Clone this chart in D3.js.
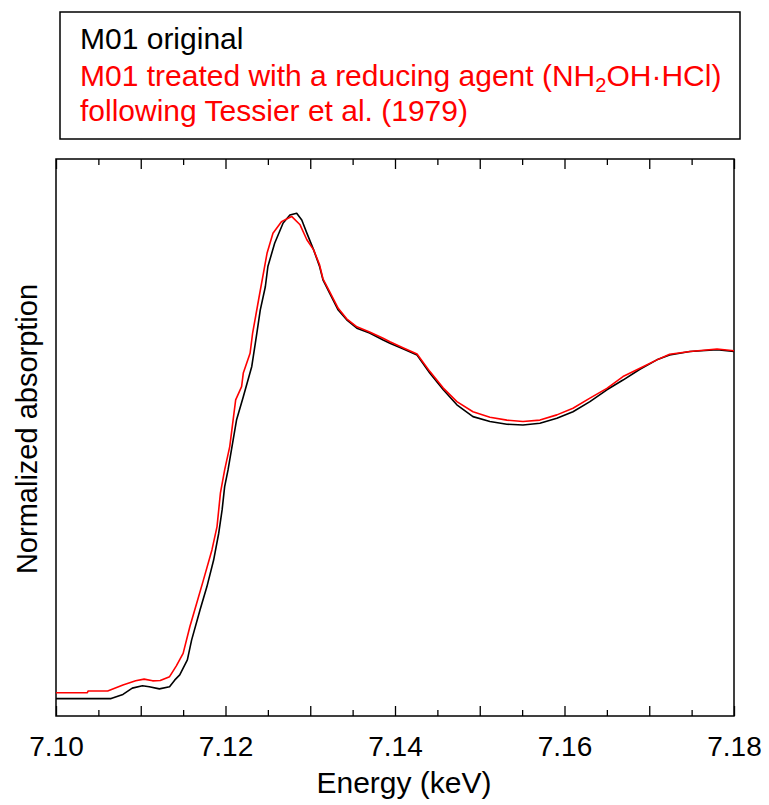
<!DOCTYPE html>
<html>
<head>
<meta charset="utf-8">
<script src="https://cdn.jsdelivr.net/npm/d3@7"></script>
<style>
  html, body { margin: 0; padding: 0; background: #fff; }
  svg { display: block; }
  text { font-family: "Liberation Sans", Arial, sans-serif; }
</style>
</head>
<body>
<div id="chart"></div>
<script>
// ---------------- data ----------------
const energyOriginal = [7.1000,7.1065,7.1079,7.1090,7.1102,7.1110,7.1122,7.1134,7.1140,7.1146,7.1155,7.1160,7.1170,7.1178,7.1186,7.1192,7.1196,7.1199,7.1203,7.1205,7.1213,7.1221,7.1231,7.1237,7.1241,7.1247,7.1250,7.1258,7.1268,7.1276,7.1284,7.1290,7.1296,7.1304,7.1311,7.1315,7.1323,7.1333,7.1343,7.1355,7.1370,7.1386,7.1394,7.1410,7.1426,7.1441,7.1457,7.1473,7.1492,7.1512,7.1532,7.1551,7.1571,7.1591,7.1610,7.1630,7.1650,7.1669,7.1689,7.1709,7.1724,7.1748,7.1780,7.1800];
const absOriginal    = [0.000,0.000,0.012,0.030,0.037,0.034,0.028,0.034,0.053,0.068,0.111,0.168,0.255,0.321,0.398,0.475,0.542,0.609,0.657,0.686,0.800,0.867,0.954,1.050,1.116,1.183,1.241,1.308,1.366,1.389,1.394,1.375,1.337,1.289,1.241,1.203,1.164,1.116,1.088,1.064,1.050,1.030,1.021,1.004,0.987,0.935,0.887,0.844,0.810,0.796,0.788,0.786,0.791,0.805,0.824,0.853,0.887,0.915,0.946,0.973,0.987,0.997,1.002,0.997];

const energyTreated = [7.1000,7.1037,7.1038,7.1061,7.1079,7.1094,7.1104,7.1114,7.1123,7.1134,7.1142,7.1150,7.1158,7.1166,7.1174,7.1184,7.1190,7.1194,7.1199,7.1205,7.1212,7.1219,7.1221,7.1229,7.1232,7.1239,7.1249,7.1256,7.1266,7.1278,7.1288,7.1296,7.1304,7.1311,7.1315,7.1323,7.1333,7.1343,7.1355,7.1370,7.1386,7.1394,7.1410,7.1426,7.1441,7.1457,7.1473,7.1492,7.1512,7.1532,7.1551,7.1571,7.1591,7.1610,7.1630,7.1650,7.1669,7.1689,7.1709,7.1724,7.1748,7.1780,7.1800];
const absTreated    = [0.017,0.017,0.022,0.022,0.039,0.051,0.056,0.051,0.052,0.063,0.094,0.130,0.207,0.274,0.341,0.427,0.494,0.590,0.657,0.724,0.858,0.896,0.935,0.992,1.050,1.145,1.279,1.337,1.370,1.385,1.361,1.318,1.289,1.246,1.206,1.168,1.121,1.091,1.068,1.053,1.035,1.025,1.007,0.990,0.940,0.892,0.853,0.824,0.808,0.800,0.796,0.800,0.815,0.834,0.863,0.891,0.925,0.949,0.973,0.989,0.997,1.004,0.999];

const xDomain = [7.10, 7.18];
const yDomain = [-0.05, 1.55];
const labelTicks = [7.10, 7.12, 7.14, 7.16, 7.18];
const midTicks   = [7.11, 7.13, 7.15, 7.17];
const minorTicks = [7.105, 7.115, 7.125, 7.135, 7.145, 7.155, 7.165, 7.175];

const legendLines = ["M01 original", "M01 treated with a reducing agent (NH", "following Tessier et al. (1979)"];
const xTitle = "Energy (keV)";
const yTitle = "Normalized absorption";
const colorOriginal = "#000000";
const colorTreated = "#ff0000";

// ---------------- layout ----------------
const W = 769, H = 805;
const plot = { left: 56, right: 734, top: 159, bottom: 716 };

const svg = d3.select("#chart").append("svg").attr("width", W).attr("height", H);

const x = d3.scaleLinear().domain(xDomain).range([plot.left, plot.right]);
const y = d3.scaleLinear().domain(yDomain).range([plot.bottom, plot.top]);

function addAxis(axisGen, ty) {
  const g = svg.append("g").attr("transform", `translate(0,${ty})`).call(axisGen);
  g.select(".domain").remove();
  g.selectAll(".tick line").attr("stroke", "#000").attr("stroke-width", 1.3);
  return g;
}
// bottom axis
addAxis(d3.axisBottom(x).tickValues(minorTicks).tickSize(-6).tickFormat(""), plot.bottom);
addAxis(d3.axisBottom(x).tickValues(midTicks.concat(labelTicks)).tickSize(-10).tickFormat(""), plot.bottom);
const lab = addAxis(d3.axisBottom(x).tickValues(labelTicks).tickSize(0).tickPadding(20).tickFormat(d3.format(".2f")), plot.bottom);
lab.selectAll("text").attr("font-size", 28).attr("fill", "#000")
   .attr("font-family", "'Liberation Sans', Arial, sans-serif");

// top axis
addAxis(d3.axisTop(x).tickValues(minorTicks).tickSize(-6).tickFormat(""), plot.top);
addAxis(d3.axisTop(x).tickValues(midTicks.concat(labelTicks)).tickSize(-10).tickFormat(""), plot.top);

// frame
svg.append("rect")
  .attr("x", plot.left).attr("y", plot.top)
  .attr("width", plot.right - plot.left).attr("height", plot.bottom - plot.top)
  .attr("fill", "none").attr("stroke", "#000").attr("stroke-width", 1.5);

// curves
const line = d3.line().x(d => x(d[0])).y(d => y(d[1]));
const dataOriginal = energyOriginal.map((e, i) => [e, absOriginal[i]]);
const dataTreated = energyTreated.map((e, i) => [e, absTreated[i]]);

svg.append("path").datum(dataOriginal)
  .attr("d", line).attr("fill", "none").attr("stroke", colorOriginal)
  .attr("stroke-width", 1.6).attr("stroke-linejoin", "round");
svg.append("path").datum(dataTreated)
  .attr("d", line).attr("fill", "none").attr("stroke", colorTreated)
  .attr("stroke-width", 1.6).attr("stroke-linejoin", "round");

// axis titles
svg.append("text").attr("x", 404).attr("y", 793)
  .attr("text-anchor", "middle").attr("font-size", 30).text(xTitle);
svg.append("text")
  .attr("transform", "translate(37,429) rotate(-90)")
  .attr("text-anchor", "middle").attr("font-size", 29).text(yTitle);

// legend
svg.append("rect").attr("x", 60).attr("y", 12).attr("width", 680).attr("height", 127)
  .attr("fill", "#fff").attr("stroke", "#000").attr("stroke-width", 1.5);

svg.append("text").attr("x", 80).attr("y", 49).attr("font-size", 30)
  .attr("fill", colorOriginal).text(legendLines[0]);

const t2 = svg.append("text").attr("x", 80).attr("y", 86).attr("font-size", 30).attr("fill", colorTreated);
t2.append("tspan").text(legendLines[1]);
t2.append("tspan").attr("font-size", 20).attr("dy", 6).text("2");
t2.append("tspan").attr("dy", -6).text("OH\u00B7HCl)");

svg.append("text").attr("x", 80).attr("y", 121).attr("font-size", 30)
  .attr("fill", colorTreated).text(legendLines[2]);
</script>
</body>
</html>
